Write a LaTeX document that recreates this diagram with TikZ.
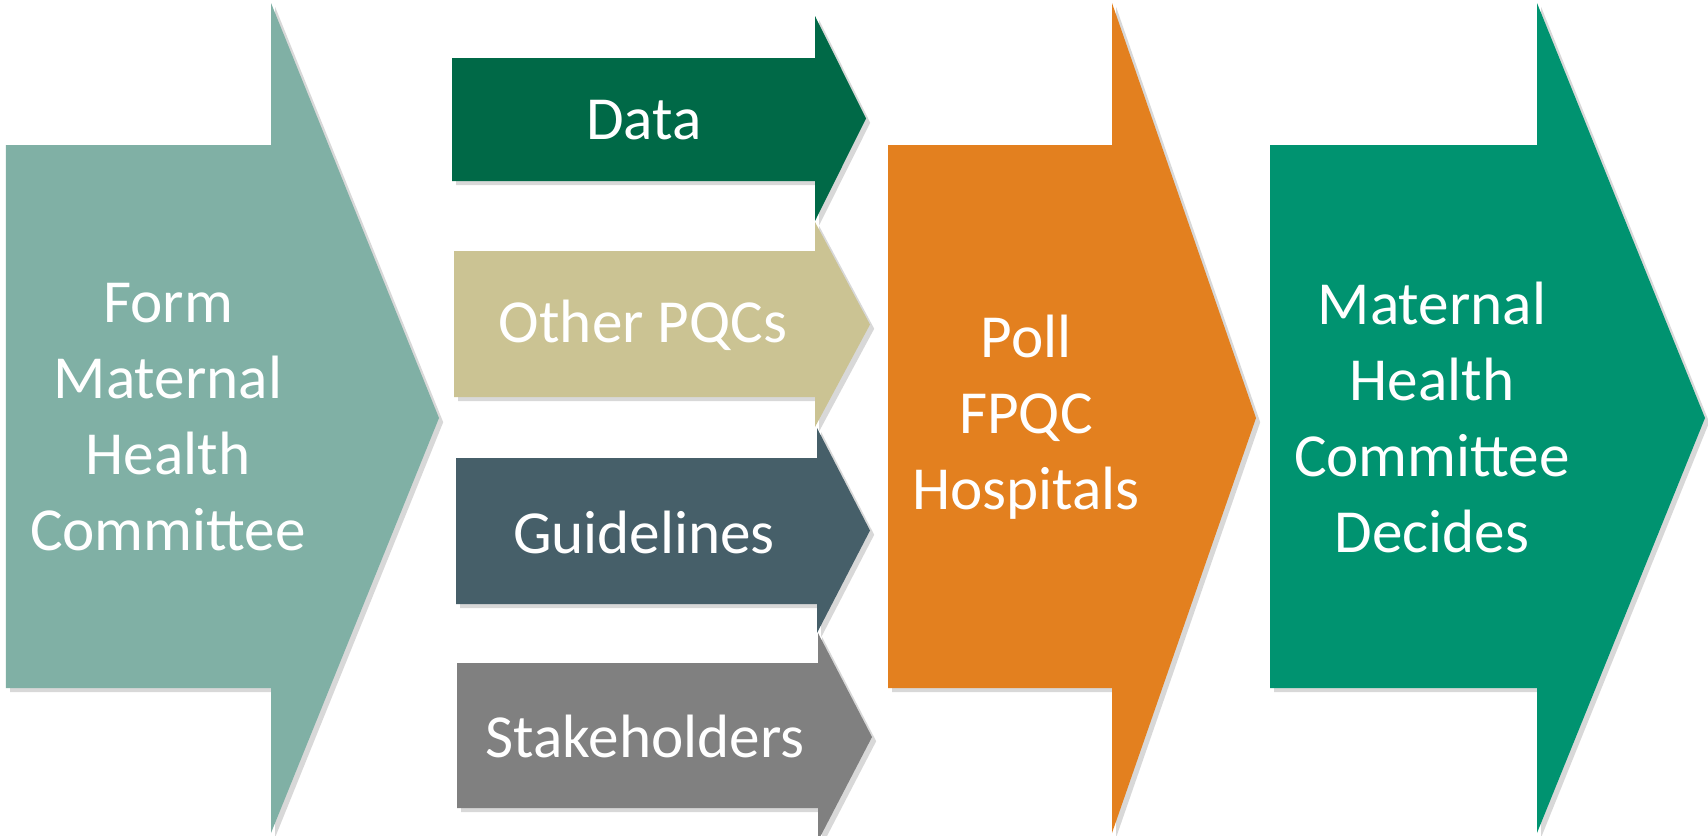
\documentclass[tikz,border=0pt]{standalone}
\usepackage{fontspec}
\setmainfont{Carlito}
\usetikzlibrary{shadows}

\definecolor{formgreen}{HTML}{80B0A5}
\definecolor{datagreen}{HTML}{006947}
\definecolor{pqctan}{HTML}{CBC393}
\definecolor{guideslate}{HTML}{465F69}
\definecolor{stakegray}{HTML}{808080}
\definecolor{pollorange}{HTML}{E3801F}
\definecolor{decidegreen}{HTML}{009370}

\begin{document}
\begin{tikzpicture}[x=0.01cm, y=-0.01cm,
    arrowbox/.style={drop shadow={shadow xshift=1.2pt, shadow yshift=-1.2pt, opacity=0.3}},
    arrowtext/.style={text=white, align=center, font=\fontsize{17.4}{21.6}\selectfont}]

  \useasboundingbox[fill=white] (0,0) rectangle (1708,836);

  % name/colour/left/top/bottom/head/head top/head bottom/tip/text x/text
  \foreach \nm/\col/\lx/\ty/\by/\hx/\hty/\hby/\px/\tx/\txt in {
      form/formgreen/6/145/688/271/3/833/439/168/{Form\\Maternal\\Health\\Committee},
      data/datagreen/452/58/181/815/16/221/866/644/{Data},
      pqcs/pqctan/454/251/397/815/222/427/870/643/{Other PQCs},
      guides/guideslate/456/458/604/817/428/633/870/644/{Guidelines},
      stake/stakegray/457/663/808/818/633/841/872/645/{Stakeholders},
      poll/pollorange/888/145/688/1112/3/833/1256/1026/{Poll\\FPQC\\Hospitals},
      decide/decidegreen/1270/145/688/1537/3/833/1705/1432/{Maternal\\Health\\Committee\\Decides}} {
    \fill[\col, arrowbox] (\lx,\ty) -- (\hx,\ty) -- (\hx,\hty) -- ({\px},{(\hty+\hby)/2})
      -- (\hx,\hby) -- (\hx,\by) -- (\lx,\by) -- cycle;
    \node[arrowtext] (\nm) at ({\tx},{(\ty+\by)/2+1}) {\txt};
  }
\end{tikzpicture}
\end{document}
